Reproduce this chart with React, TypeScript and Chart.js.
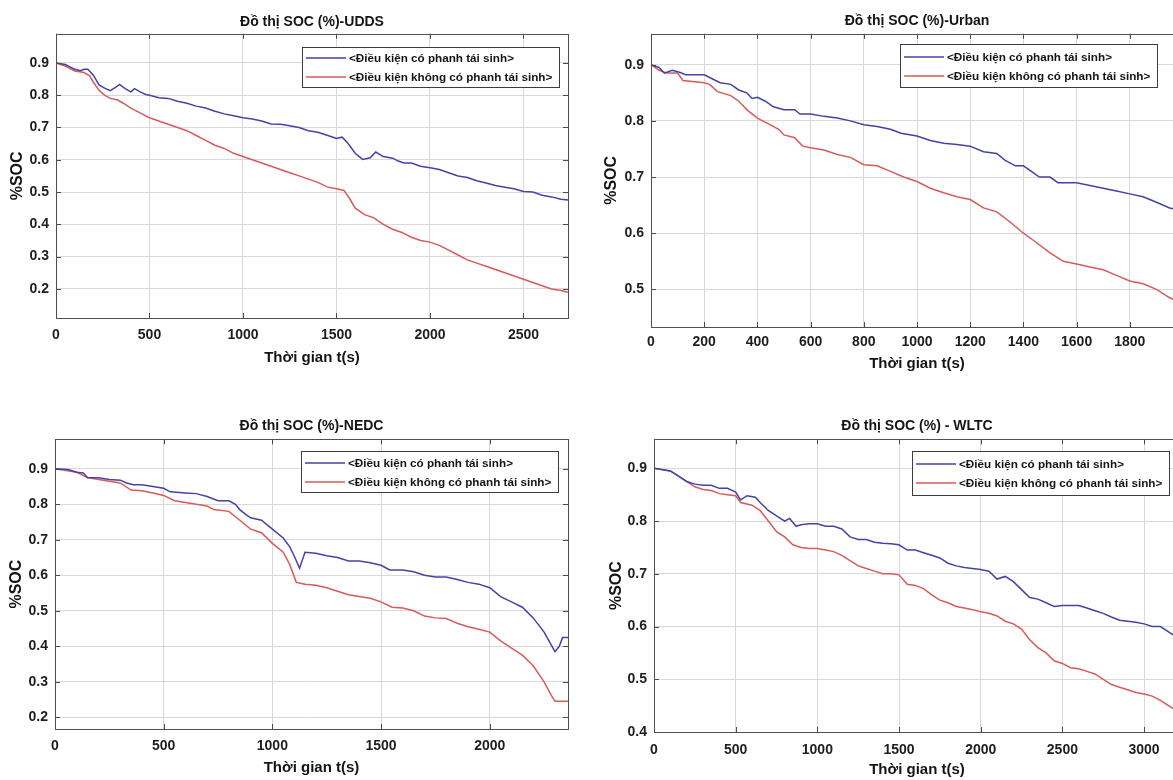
import React, { useEffect, useRef } from "react";
import { Chart, registerables } from "chart.js";

Chart.register(...registerables);
Chart.defaults.font.family = "'Liberation Sans', Arial, Helvetica, sans-serif";

// ---------- text ----------
const LEGEND_LABELS = ["<Điều kiện có phanh tái sinh>", "<Điều kiện không có phanh tái sinh>"];
const X_TITLE = "Thời gian t(s)";
const Y_TITLE = "%SOC";
const SERIES_COLORS = ["#4343a6", "#d85a5a"];

// ---------- UDDS ----------
const UDDS_TITLE = "Đồ thị SOC (%)-UDDS";
const UDDS_X_TICKS = [0, 500, 1000, 1500, 2000, 2500];
const UDDS_Y_TICKS = [0.2, 0.3, 0.4, 0.5, 0.6, 0.7, 0.8, 0.9];
const UDDS_REGEN: [number, number][] = [
  [0, 0.9], [50, 0.895], [100, 0.88], [130, 0.876], [150, 0.88], [170, 0.88], [200, 0.862], [230, 0.832],
  [260, 0.822], [290, 0.814], [320, 0.825], [340, 0.833], [370, 0.82], [400, 0.81], [420, 0.82],
  [450, 0.81], [480, 0.802], [500, 0.8], [550, 0.792], [600, 0.79], [650, 0.781], [700, 0.775],
  [750, 0.766], [800, 0.76], [850, 0.75], [900, 0.742], [950, 0.736], [1000, 0.73], [1050, 0.726],
  [1100, 0.72], [1150, 0.711], [1200, 0.71], [1250, 0.705], [1300, 0.7], [1350, 0.69], [1400, 0.685],
  [1450, 0.676], [1500, 0.666], [1530, 0.67], [1560, 0.652], [1600, 0.62], [1640, 0.601], [1680, 0.606],
  [1710, 0.624], [1750, 0.61], [1800, 0.605], [1830, 0.596], [1860, 0.59], [1900, 0.59], [1950, 0.58],
  [2000, 0.575], [2050, 0.57], [2100, 0.56], [2150, 0.55], [2200, 0.545], [2250, 0.535], [2300, 0.528],
  [2350, 0.52], [2400, 0.515], [2450, 0.51], [2500, 0.502], [2550, 0.5], [2600, 0.49], [2650, 0.485],
  [2700, 0.478], [2738, 0.475],
];
const UDDS_NO_REGEN: [number, number][] = [
  [0, 0.9], [50, 0.89], [100, 0.875], [150, 0.87], [180, 0.86], [200, 0.84], [230, 0.815], [260, 0.8],
  [290, 0.79], [330, 0.785], [360, 0.775], [400, 0.76], [450, 0.745], [500, 0.73], [550, 0.72],
  [600, 0.71], [650, 0.7], [700, 0.69], [750, 0.675], [800, 0.66], [850, 0.645], [900, 0.635],
  [950, 0.62], [1000, 0.61], [1050, 0.6], [1100, 0.59], [1150, 0.58], [1200, 0.57], [1250, 0.56],
  [1300, 0.55], [1350, 0.54], [1400, 0.53], [1450, 0.516], [1500, 0.51], [1540, 0.505], [1570, 0.48],
  [1600, 0.45], [1650, 0.43], [1700, 0.42], [1750, 0.4], [1800, 0.385], [1850, 0.375], [1900, 0.36],
  [1950, 0.35], [2000, 0.345], [2050, 0.335], [2100, 0.32], [2150, 0.305], [2200, 0.29], [2250, 0.28],
  [2300, 0.27], [2350, 0.26], [2400, 0.25], [2450, 0.24], [2500, 0.23], [2550, 0.22], [2600, 0.21],
  [2650, 0.2], [2700, 0.195], [2738, 0.19],
];

// ---------- Urban ----------
const URBAN_TITLE = "Đồ thị SOC (%)-Urban";
const URBAN_X_TICKS = [0, 200, 400, 600, 800, 1000, 1200, 1400, 1600, 1800];
const URBAN_Y_TICKS = [0.5, 0.6, 0.7, 0.8, 0.9];
const URBAN_REGEN: [number, number][] = [
  [0, 0.9], [30, 0.895], [50, 0.885], [80, 0.89], [110, 0.886], [130, 0.882], [200, 0.882], [230, 0.875],
  [260, 0.868], [300, 0.865], [330, 0.855], [360, 0.85], [380, 0.84], [400, 0.842], [430, 0.835],
  [460, 0.825], [500, 0.82], [540, 0.82], [560, 0.812], [600, 0.812], [650, 0.808], [700, 0.805],
  [750, 0.8], [800, 0.793], [850, 0.79], [900, 0.785], [940, 0.778], [1000, 0.773], [1050, 0.765],
  [1100, 0.76], [1150, 0.758], [1200, 0.755], [1250, 0.745], [1300, 0.742], [1330, 0.73], [1370, 0.72],
  [1400, 0.72], [1430, 0.71], [1460, 0.7], [1500, 0.7], [1530, 0.69], [1600, 0.69], [1650, 0.685],
  [1700, 0.68], [1750, 0.675], [1800, 0.67], [1850, 0.665], [1900, 0.655], [1950, 0.645], [2000, 0.64],
];
const URBAN_NO_REGEN: [number, number][] = [
  [0, 0.9], [30, 0.89], [60, 0.885], [100, 0.885], [120, 0.872], [200, 0.868], [220, 0.865], [250, 0.852],
  [300, 0.845], [330, 0.835], [360, 0.82], [400, 0.805], [440, 0.795], [480, 0.785], [500, 0.775],
  [540, 0.77], [570, 0.755], [600, 0.752], [650, 0.748], [700, 0.74], [750, 0.735], [800, 0.722],
  [850, 0.72], [900, 0.71], [950, 0.7], [1000, 0.692], [1050, 0.68], [1100, 0.672], [1150, 0.665],
  [1200, 0.66], [1250, 0.645], [1300, 0.638], [1350, 0.62], [1400, 0.6], [1450, 0.583], [1500, 0.565],
  [1550, 0.55], [1600, 0.545], [1650, 0.54], [1700, 0.535], [1750, 0.525], [1800, 0.515], [1850, 0.51],
  [1900, 0.5], [1950, 0.485], [2000, 0.475],
];

// ---------- NEDC ----------
const NEDC_TITLE = "Đồ thị SOC (%)-NEDC";
const NEDC_X_TICKS = [0, 500, 1000, 1500, 2000];
const NEDC_Y_TICKS = [0.2, 0.3, 0.4, 0.5, 0.6, 0.7, 0.8, 0.9];
const NEDC_REGEN: [number, number][] = [
  [0, 0.9], [60, 0.898], [100, 0.89], [130, 0.888], [150, 0.875], [200, 0.875], [250, 0.87], [300, 0.868],
  [330, 0.86], [360, 0.855], [400, 0.855], [450, 0.85], [500, 0.845], [530, 0.835], [600, 0.832],
  [650, 0.83], [700, 0.822], [750, 0.81], [800, 0.81], [830, 0.8], [850, 0.785], [880, 0.77],
  [900, 0.762], [950, 0.755], [1000, 0.73], [1050, 0.705], [1080, 0.68], [1100, 0.655], [1125, 0.62],
  [1150, 0.665], [1200, 0.662], [1250, 0.655], [1300, 0.65], [1350, 0.64], [1400, 0.64], [1450, 0.635],
  [1500, 0.628], [1540, 0.615], [1600, 0.615], [1650, 0.61], [1700, 0.6], [1750, 0.595], [1800, 0.595],
  [1850, 0.588], [1900, 0.58], [1950, 0.575], [2000, 0.565], [2050, 0.54], [2100, 0.525], [2150, 0.51],
  [2200, 0.48], [2250, 0.44], [2300, 0.385], [2320, 0.4], [2335, 0.425], [2360, 0.425],
];
const NEDC_NO_REGEN: [number, number][] = [
  [0, 0.9], [100, 0.89], [150, 0.875], [200, 0.87], [250, 0.865], [300, 0.86], [350, 0.84], [400, 0.838],
  [450, 0.832], [500, 0.825], [550, 0.81], [600, 0.805], [650, 0.8], [700, 0.795], [730, 0.785],
  [800, 0.78], [850, 0.755], [900, 0.73], [950, 0.72], [1000, 0.69], [1050, 0.665], [1080, 0.63],
  [1110, 0.58], [1150, 0.575], [1200, 0.572], [1250, 0.565], [1300, 0.555], [1350, 0.545], [1400, 0.54],
  [1450, 0.535], [1500, 0.525], [1550, 0.51], [1600, 0.508], [1650, 0.5], [1700, 0.485], [1750, 0.48],
  [1800, 0.478], [1850, 0.465], [1900, 0.455], [1950, 0.448], [2000, 0.44], [2050, 0.415], [2100, 0.395],
  [2150, 0.375], [2200, 0.345], [2250, 0.3], [2280, 0.265], [2300, 0.245], [2360, 0.245],
];

// ---------- WLTC ----------
const WLTC_TITLE = "Đồ thị SOC (%) - WLTC";
const WLTC_X_TICKS = [0, 500, 1000, 1500, 2000, 2500, 3000];
const WLTC_Y_TICKS = [0.4, 0.5, 0.6, 0.7, 0.8, 0.9];
const WLTC_REGEN: [number, number][] = [
  [0, 0.9], [100, 0.895], [150, 0.885], [200, 0.875], [250, 0.87], [300, 0.868], [350, 0.868], [400, 0.862],
  [450, 0.862], [500, 0.855], [530, 0.84], [570, 0.848], [620, 0.845], [650, 0.835], [700, 0.82],
  [750, 0.81], [800, 0.8], [830, 0.805], [870, 0.79], [900, 0.793], [950, 0.795], [1000, 0.795],
  [1050, 0.79], [1100, 0.79], [1150, 0.785], [1200, 0.77], [1250, 0.765], [1300, 0.765], [1350, 0.76],
  [1400, 0.758], [1450, 0.757], [1500, 0.755], [1550, 0.745], [1600, 0.745], [1650, 0.74], [1700, 0.735],
  [1750, 0.73], [1800, 0.72], [1850, 0.715], [1900, 0.712], [1950, 0.71], [2000, 0.708], [2050, 0.705],
  [2100, 0.69], [2150, 0.695], [2200, 0.685], [2250, 0.67], [2300, 0.655], [2350, 0.652], [2400, 0.645],
  [2450, 0.638], [2500, 0.64], [2550, 0.64], [2600, 0.64], [2650, 0.635], [2700, 0.63], [2750, 0.625],
  [2800, 0.618], [2850, 0.612], [2900, 0.61], [2950, 0.608], [3000, 0.605], [3050, 0.6], [3100, 0.6],
  [3150, 0.59], [3200, 0.58], [3220, 0.575],
];
const WLTC_NO_REGEN: [number, number][] = [
  [0, 0.9], [100, 0.895], [150, 0.885], [200, 0.875], [250, 0.865], [300, 0.86], [350, 0.858], [400, 0.852],
  [450, 0.85], [500, 0.848], [530, 0.835], [600, 0.83], [650, 0.82], [700, 0.8], [750, 0.78], [800, 0.77],
  [850, 0.755], [900, 0.75], [950, 0.748], [1000, 0.748], [1050, 0.745], [1100, 0.742], [1150, 0.735],
  [1200, 0.725], [1250, 0.715], [1300, 0.71], [1350, 0.705], [1400, 0.7], [1450, 0.7], [1500, 0.698],
  [1550, 0.68], [1600, 0.678], [1650, 0.672], [1700, 0.66], [1750, 0.65], [1800, 0.645], [1850, 0.638],
  [1900, 0.635], [1950, 0.632], [2000, 0.628], [2050, 0.625], [2100, 0.62], [2150, 0.61], [2200, 0.605],
  [2250, 0.595], [2300, 0.575], [2350, 0.56], [2400, 0.55], [2450, 0.535], [2500, 0.53], [2550, 0.522],
  [2600, 0.52], [2650, 0.515], [2700, 0.51], [2750, 0.5], [2800, 0.49], [2850, 0.485], [2900, 0.48],
  [2950, 0.475], [3000, 0.472], [3050, 0.468], [3100, 0.46], [3150, 0.45], [3200, 0.44], [3220, 0.435],
];

// ---------- panel layout ----------
type Panel = {
  id: string; title: string; left: number; top: number; width: number; height: number;
  xMax: number; yMin: number; yMax: number; xTicks: number[]; yTicks: number[];
  series: [number, number][][];
  yWidth: number; padRight: number; titleTop: number; titleBottom: number;
  xHeight: number; xTickPad: number; xTitlePad: number; yTitlePad: number;
  legRight: number; legTop: number; legHeight: number; legRow1: number; legGap: number;
};

const PANELS: Panel[] = [
  {
    id: "udds", title: UDDS_TITLE, left: 0, top: 0, width: 600, height: 380,
    xMax: 2738, yMin: 0.11, yMax: 0.99, xTicks: UDDS_X_TICKS, yTicks: UDDS_Y_TICKS,
    series: [UDDS_REGEN, UDDS_NO_REGEN],
    yWidth: 56, padRight: 32, titleTop: 14, titleBottom: 3, xHeight: 62, xTickPad: 9, xTitlePad: 13, yTitlePad: 8,
    legRight: 9, legTop: 13, legHeight: 40, legRow1: 11, legGap: 19,
  },
  {
    id: "urban", title: URBAN_TITLE, left: 600, top: 0, width: 600, height: 380,
    xMax: 2000, yMin: 0.433, yMax: 0.955, xTicks: URBAN_X_TICKS, yTicks: URBAN_Y_TICKS,
    series: [URBAN_REGEN, URBAN_NO_REGEN],
    yWidth: 51, padRight: 17, titleTop: 13, titleBottom: 4, xHeight: 53, xTickPad: 7, xTitlePad: 7, yTitlePad: 2,
    legRight: 26, legTop: 10, legHeight: 43, legRow1: 13, legGap: 19,
  },
  {
    id: "nedc", title: NEDC_TITLE, left: 0, top: 390, width: 600, height: 390,
    xMax: 2360, yMin: 0.167, yMax: 0.983, xTicks: NEDC_X_TICKS, yTicks: NEDC_Y_TICKS,
    series: [NEDC_REGEN, NEDC_NO_REGEN],
    yWidth: 55, padRight: 32, titleTop: 28, titleBottom: 4.5, xHeight: 51, xTickPad: 9, xTitlePad: 3, yTitlePad: 7,
    legRight: 10, legTop: 12, legHeight: 41, legRow1: 12, legGap: 19,
  },
  {
    id: "wltc", title: WLTC_TITLE, left: 600, top: 390, width: 600, height: 390,
    xMax: 3220, yMin: 0.4, yMax: 0.955, xTicks: WLTC_X_TICKS, yTicks: WLTC_Y_TICKS,
    series: [WLTC_REGEN, WLTC_NO_REGEN],
    yWidth: 54, padRight: 20, titleTop: 28, titleBottom: 4.5, xHeight: 48, xTickPad: 10, xTitlePad: 1, yTitlePad: 7,
    legRight: 11, legTop: 12, legHeight: 44, legRow1: 13, legGap: 19,
  },
];

const FONT_FAMILY = "'Liberation Sans', Arial, Helvetica, sans-serif";

const matlabFrame = {
  id: "matlabFrame",
  afterDatasetsDraw(chart: any, _args: any, opts: any) {
    const { ctx, chartArea: a, scales } = chart;
    ctx.save();
    // inward ticks on all four sides
    ctx.strokeStyle = "#4a4a4a";
    ctx.lineWidth = 1;
    ctx.beginPath();
    const tl = 5;
    scales.x.ticks.forEach((t: any) => {
      const px = Math.round(scales.x.getPixelForValue(t.value)) + 0.5;
      ctx.moveTo(px, a.bottom); ctx.lineTo(px, a.bottom - tl);
      ctx.moveTo(px, a.top); ctx.lineTo(px, a.top + tl);
    });
    scales.y.ticks.forEach((t: any) => {
      const py = Math.round(scales.y.getPixelForValue(t.value)) + 0.5;
      ctx.moveTo(a.left, py); ctx.lineTo(a.left + tl, py);
      ctx.moveTo(a.right, py); ctx.lineTo(a.right - tl, py);
    });
    ctx.stroke();
    // frame
    ctx.strokeStyle = "#505050";
    ctx.strokeRect(Math.round(a.left) + 0.5, Math.round(a.top) + 0.5, Math.round(a.right - a.left), Math.round(a.bottom - a.top));

    // legend box
    ctx.font = `bold 11.7px ${FONT_FAMILY}`;
    const labels: string[] = chart.data.datasets.map((d: any) => d.label);
    const textW = Math.max(...labels.map((l) => ctx.measureText(l).width));
    const padL = 4, lineLen = 40, gap = 3, padR = 7;
    const w = padL + lineLen + gap + textW + padR;
    const right = Math.round(a.right - opts.right);
    const left = Math.round(right - w);
    const top = Math.round(a.top + opts.top);
    ctx.fillStyle = "#ffffff";
    ctx.fillRect(left, top, right - left, opts.height);
    ctx.strokeStyle = "#3c3c3c";
    ctx.lineWidth = 1;
    ctx.strokeRect(left + 0.5, top + 0.5, right - left, opts.height);
    chart.data.datasets.forEach((d: any, i: number) => {
      const y = top + opts.row1 + i * opts.gap;
      ctx.strokeStyle = d.borderColor;
      ctx.lineWidth = 1.6;
      ctx.beginPath();
      ctx.moveTo(left + padL, y);
      ctx.lineTo(left + padL + lineLen, y);
      ctx.stroke();
      ctx.fillStyle = "#151515";
      ctx.textBaseline = "middle";
      ctx.textAlign = "left";
      ctx.fillText(d.label, left + padL + lineLen + gap, y + 0.5);
    });
    ctx.restore();
  },
};

function PanelChart({ cfg }: { cfg: Panel }) {
  const ref = useRef<HTMLCanvasElement | null>(null);
  useEffect(() => {
    if (!ref.current) return;
    const chart = new Chart(ref.current, {
      type: "line",
      data: {
        datasets: cfg.series.map((s, i) => ({
          label: LEGEND_LABELS[i],
          data: s.map(([x, y]) => ({ x, y })),
          borderColor: SERIES_COLORS[i],
          backgroundColor: SERIES_COLORS[i],
          borderWidth: 1.5,
          pointRadius: 0,
          tension: 0,
          fill: false,
        })),
      },
      plugins: [matlabFrame as any],
      options: {
        animation: false,
        responsive: false,
        maintainAspectRatio: false,
        events: [],
        layout: { padding: { left: 0, right: cfg.padRight, top: 0, bottom: 0 } },
        plugins: {
          legend: { display: false },
          tooltip: { enabled: false },
          title: {
            display: true,
            fullSize: false,
            text: cfg.title,
            color: "#141414",
            font: { size: 14, weight: "bold" },
            padding: { top: cfg.titleTop, bottom: cfg.titleBottom },
          },
          matlabFrame: {
            right: cfg.legRight, top: cfg.legTop, height: cfg.legHeight, row1: cfg.legRow1, gap: cfg.legGap,
          },
        } as any,
        scales: {
          x: {
            type: "linear",
            min: 0,
            max: cfg.xMax,
            afterBuildTicks: (s: any) => { s.ticks = cfg.xTicks.map((v) => ({ value: v })); },
            afterFit: (s: any) => { s.height = cfg.xHeight; },
            grid: { color: "#d9d9d9", lineWidth: 1, drawTicks: false },
            border: { display: false },
            ticks: {
              padding: cfg.xTickPad,
              color: "#1e1e1e",
              font: { size: 14, weight: "bold" },
              maxRotation: 0,
              autoSkip: false,
              callback: (v: any) => String(v),
            },
            title: {
              display: true,
              text: X_TITLE,
              color: "#141414",
              font: { size: 15, weight: "bold" },
              padding: { top: 0, bottom: cfg.xTitlePad },
            },
          },
          y: {
            type: "linear",
            min: cfg.yMin,
            max: cfg.yMax,
            afterBuildTicks: (s: any) => { s.ticks = cfg.yTicks.map((v) => ({ value: v })); },
            afterFit: (s: any) => { s.width = cfg.yWidth; },
            grid: { color: "#d9d9d9", lineWidth: 1, drawTicks: false },
            border: { display: false },
            ticks: {
              padding: 7,
              color: "#1e1e1e",
              font: { size: 14, weight: "bold" },
              callback: (v: any) => Number(v).toFixed(1),
            },
            title: {
              display: true,
              text: Y_TITLE,
              color: "#141414",
              font: { size: 16, weight: "bold" },
              padding: { top: cfg.yTitlePad, bottom: 0 },
            },
          },
        },
      } as any,
    });
    return () => chart.destroy();
  }, [cfg]);
  return (
    <div style={{ position: "absolute", left: cfg.left, top: cfg.top, width: cfg.width, height: cfg.height }}>
      <canvas ref={ref} width={cfg.width} height={cfg.height} style={{ width: cfg.width, height: cfg.height, display: "block" }} />
    </div>
  );
}

export default function App() {
  return (
    <div
      style={{
        position: "fixed",
        left: 0,
        top: 0,
        width: 1173,
        height: 780,
        overflow: "hidden",
        background: "#ffffff",
      }}
    >
      {PANELS.map((p) => (
        <PanelChart key={p.id} cfg={p} />
      ))}
    </div>
  );
}
